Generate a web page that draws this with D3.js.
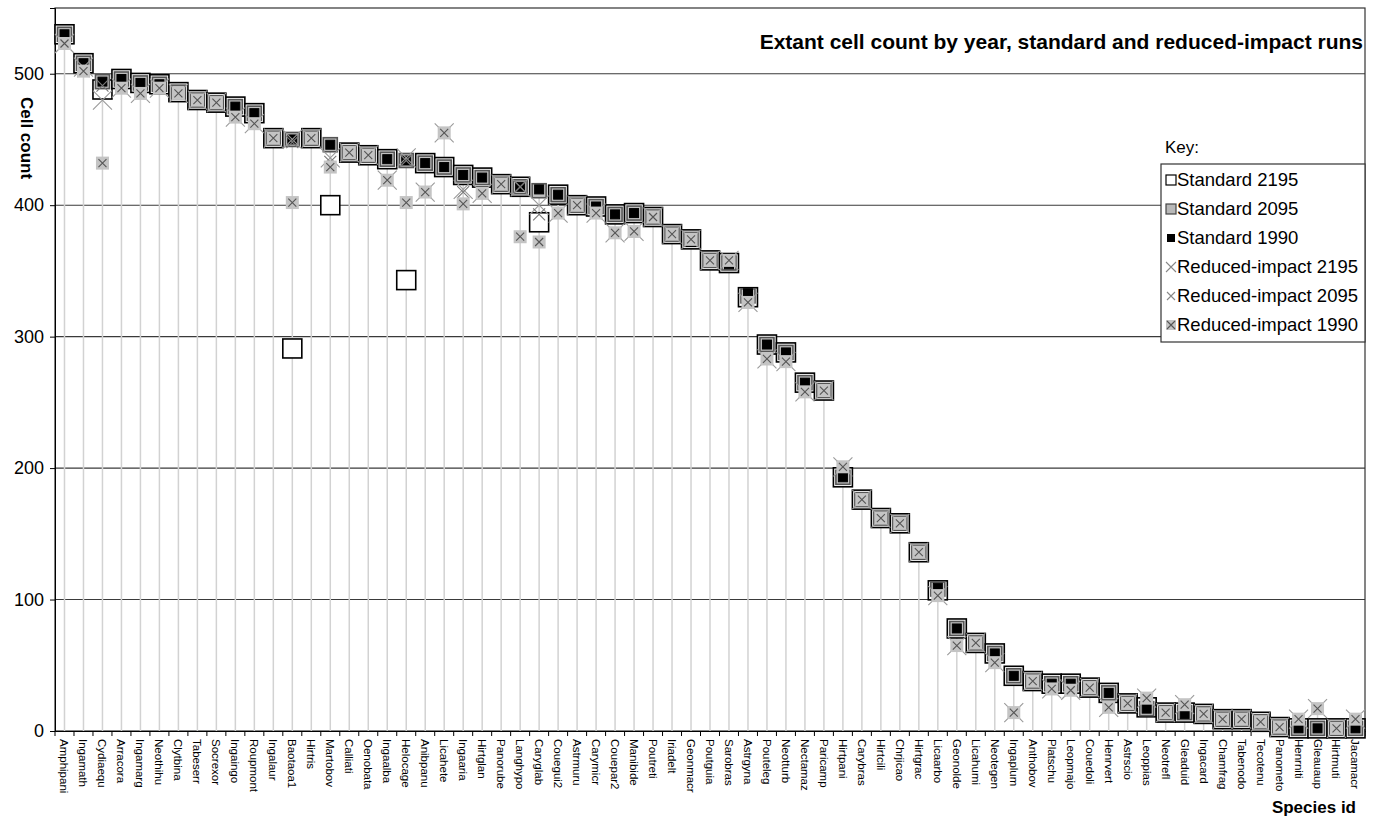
<!DOCTYPE html>
<html>
<head>
<meta charset="utf-8">
<script src="https://cdn.jsdelivr.net/npm/d3@7"></script>
<style>
  body { margin: 0; background: #fff; }
  svg text { font-family: Arial, "Liberation Sans", sans-serif; fill: #000; }
</style>
</head>
<body>
<svg id="chart" width="1380" height="823"></svg>
<script>
const species = ["Amphipani","Ingamath","Cydiaequ","Arracora","Ingamarg","Neothihu","Clytbina","Tabeserr","Socrexor","Ingaingo",
  "Roupmont","Ingalaur","Baotaoa1","Hirtris","Martobov","Calliati","Oenobata","Ingaalba","Helocage","Anibpanu",
  "Licahete","Ingaaria","Hirtglan","Panorube","Langhypo","Caryglab","Couegui2","Astrmuru","Carymicr","Couepar2",
  "Manibide","Poutreti","Iriadelt","Geonmacr","Poutguia","Sarobras","Astrgyna","Pouteleg","Neotturb","Nectamaz",
  "Paricamp","Hirtpani","Carybras","Hirtcili","Chrjicao","Hirtgrac","Licaarbo","Geonolde","Licahumi","Neotegen",
  "Ingaplum","Anthobov","Platschu","Leopmajo","Couedoli","Henrvert","Astrscio","Leoppias","Neotrefl","Gleaduid",
  "Ingacard","Chamfrag","Tabenodo","Tecotenu","Panometo","Henrniti","Gleauaup","Hirtmuti","Jacamacr"];

const std2195 = [530,508,488,496,493,492,486,480,478,475,470,451,291,451,400,440,438,435,343,432,
  429,423,421,416,414,387,408,400,399,393,394,391,378,374,358,356,330,294,288,265,
  259,193,176,162,158,136,107,78,67,59,42,38,36,36,33,29,21,18,14,14,
  13,9,9,7,3,2,2,2,2];
const std2095 = [530,508,494,496,493,492,486,480,478,475,470,451,450,451,446,440,438,435,434,432,
  429,423,421,416,414,411,408,400,399,393,394,391,378,374,358,356,331,294,288,265,
  259,193,176,162,158,136,108,78,67,59,42,38,36,36,33,29,21,17,14,14,
  13,9,9,7,3,2,2,2,2];
const std1990 = [530,508,494,496,493,492,486,480,478,475,470,451,450,451,446,440,438,435,434,432,
  429,423,421,416,414,412,408,400,399,393,394,391,378,372,358,355,333,294,288,265,
  259,193,176,162,158,136,109,78,67,59,42,38,36,36,33,29,21,17,14,13,
  13,9,9,7,3,2,2,2,2];
const red2195 = [523,505,480,489,485,489,485,480,478,467,462,451,450,451,436,440,438,419,436,410,
  455,412,409,416,414,400,394,400,394,379,380,391,378,374,358,358,326,283,281,258,
  259,201,176,162,158,136,103,65,67,52,14,38,32,31,33,18,21,25,14,20,
  13,9,9,7,3,9,17,2,9];
const red2095 = [523,502,491,489,485,489,485,480,478,467,462,451,448,451,433,440,438,419,434,410,
  455,410,409,416,414,393,394,400,394,379,380,391,378,374,358,358,326,283,281,258,
  259,201,176,162,158,136,103,65,67,52,14,38,32,31,33,18,21,25,14,20,
  13,9,9,7,3,9,17,2,9];
const red1990 = [523,502,432,489,485,489,485,480,478,467,462,451,402,451,429,440,438,419,402,410,
  455,401,409,416,376,372,394,400,394,379,380,391,378,374,358,358,326,283,281,258,
  259,201,176,162,158,136,103,65,67,52,14,38,32,31,33,18,21,25,14,20,
  13,9,9,7,3,9,17,2,9];
const yTicks = [0,100,200,300,400,500];

const svg = d3.select("#chart");
const plotLeft = 55, plotRight = 1365, plotTop = 8, plotBottom = 731;

const x = d3.scaleBand().domain(species).range([plotLeft, plotRight]).padding(0);
const y = d3.scaleLinear().domain([0, 550]).range([plotBottom, plotTop]);
const cx = (i) => x(species[i]) + x.bandwidth() / 2;

// grid lines
svg.append("g")
  .selectAll("line")
  .data(yTicks.filter((d) => d > 0))
  .enter()
  .append("line")
  .attr("x1", plotLeft).attr("x2", plotRight)
  .attr("y1", (d) => y(d)).attr("y2", (d) => y(d))
  .attr("stroke", "#3a3a3a").attr("stroke-width", 1.1);

// plot border
svg.append("rect")
  .attr("x", plotLeft).attr("y", plotTop)
  .attr("width", plotRight - plotLeft).attr("height", plotBottom - plotTop)
  .attr("fill", "none").attr("stroke", "#333").attr("stroke-width", 1.2);

// drop lines from highest value to zero
const allSeries = [std2195, std2095, std1990, red2195, red2095, red1990];
svg.append("g")
  .selectAll("line")
  .data(species)
  .enter()
  .append("line")
  .attr("x1", (d, i) => cx(i)).attr("x2", (d, i) => cx(i))
  .attr("y1", (d, i) => y(d3.max(allSeries, (s) => s[i])))
  .attr("y2", y(0))
  .attr("stroke", "#d2d2d2").attr("stroke-width", 1.5);

// axes
const yAxis = svg.append("g")
  .attr("transform", `translate(${plotLeft},0)`)
  .call(d3.axisLeft(y).tickValues(yTicks).tickSize(5).tickPadding(6));
yAxis.selectAll("text").style("font-size", "18px").style("font-family", "Arial, 'Liberation Sans', sans-serif");
yAxis.select(".domain").attr("stroke", "#000");

const xAxis = svg.append("g")
  .attr("transform", `translate(0,${plotBottom})`)
  .call(d3.axisBottom(x).tickSize(0).tickFormat(""));
xAxis.select(".domain").attr("stroke", "#000").attr("stroke-width", 1.2);
xAxis.selectAll("line.bound")
  .data(d3.range(species.length + 1))
  .enter()
  .append("line")
  .attr("class", "bound")
  .attr("x1", (d) => plotLeft + d * x.step()).attr("x2", (d) => plotLeft + d * x.step())
  .attr("y1", 0).attr("y2", 5)
  .attr("stroke", "#000");

svg.append("g")
  .selectAll("text")
  .data(species)
  .enter()
  .append("text")
  .attr("transform", (d, i) => `translate(${cx(i)},739) rotate(90)`)
  .attr("dy", "0.35em")
  .style("font-size", "11.5px")
  .text((d) => d);

// markers
const sq = (g, data, size, fill, stroke, sw) => {
  g.selectAll("rect")
    .data(data)
    .enter()
    .append("rect")
    .attr("x", (d, i) => cx(i) - size / 2)
    .attr("y", (d) => y(d) - size / 2)
    .attr("width", size).attr("height", size)
    .attr("fill", fill).attr("stroke", stroke).attr("stroke-width", sw);
};
const cross = (g, data, size, stroke, sw) => {
  const h = size / 2;
  g.selectAll("path")
    .data(data)
    .enter()
    .append("path")
    .attr("d", (d, i) => {
      const px = cx(i), py = y(d);
      return `M${px - h},${py - h}L${px + h},${py + h}M${px - h},${py + h}L${px + h},${py - h}`;
    })
    .attr("stroke", stroke).attr("stroke-width", sw).attr("fill", "none");
};

sq(svg.append("g"), std2195, 19, "#fff", "#000", 1.6);
sq(svg.append("g"), std2095, 14, "#c0c0c0", "#555", 1.6);
sq(svg.append("g"), std1990, 9, "#000", "#000", 1);
cross(svg.append("g"), red2195, 19, "#9a9a9a", 1.1);
cross(svg.append("g"), red2095, 12, "#7a7a7a", 1.1);
const r90 = svg.append("g");
sq(r90, red1990, 13, "#c4c4c4", "none", 0);
cross(r90, red1990, 8, "#555", 1.1);

// titles
svg.append("text")
  .attr("x", 1363).attr("y", 49)
  .attr("text-anchor", "end")
  .style("font-size", "21px").style("font-weight", "bold")
  .text("Extant cell count by year, standard and reduced-impact runs");

svg.append("text")
  .attr("transform", "translate(27,138) rotate(90)")
  .attr("text-anchor", "middle")
  .attr("dy", "0.35em")
  .style("font-size", "17px").style("font-weight", "bold")
  .text("Cell count");

svg.append("text")
  .attr("x", 1356).attr("y", 813)
  .attr("text-anchor", "end")
  .style("font-size", "17px").style("font-weight", "bold")
  .text("Species id");

// legend
svg.append("text")
  .attr("x", 1165).attr("y", 153)
  .style("font-size", "17px")
  .text("Key:");

const legend = svg.append("g");
legend.append("rect")
  .attr("x", 1161).attr("y", 164)
  .attr("width", 204).attr("height", 178)
  .attr("fill", "#fff").attr("stroke", "#333").attr("stroke-width", 1.2);

const keys = ["Standard 2195","Standard 2095","Standard 1990","Reduced-impact 2195","Reduced-impact 2095","Reduced-impact 1990"];
const ky = (i) => 180 + i * 29;
const mx = 1171;
keys.forEach((k, i) => {
  const g = legend.append("g");
  if (i === 0) g.append("rect").attr("x", mx - 5).attr("y", ky(i) - 5).attr("width", 10).attr("height", 10).attr("fill", "#fff").attr("stroke", "#000").attr("stroke-width", 1.2);
  if (i === 1) g.append("rect").attr("x", mx - 5).attr("y", ky(i) - 5).attr("width", 10).attr("height", 10).attr("fill", "#b8b8b8").attr("stroke", "#444").attr("stroke-width", 1.2);
  if (i === 2) g.append("rect").attr("x", mx - 4).attr("y", ky(i) - 4).attr("width", 8).attr("height", 8).attr("fill", "#000");
  if (i === 3) g.append("path").attr("d", `M${mx - 5},${ky(i) - 5}L${mx + 5},${ky(i) + 5}M${mx - 5},${ky(i) + 5}L${mx + 5},${ky(i) - 5}`).attr("stroke", "#888").attr("stroke-width", 1.1);
  if (i === 4) g.append("path").attr("d", `M${mx - 4},${ky(i) - 4}L${mx + 4},${ky(i) + 4}M${mx - 4},${ky(i) + 4}L${mx + 4},${ky(i) - 4}`).attr("stroke", "#888").attr("stroke-width", 1.1);
  if (i === 5) {
    g.append("rect").attr("x", mx - 5).attr("y", ky(i) - 5).attr("width", 10).attr("height", 10).attr("fill", "#c4c4c4");
    g.append("path").attr("d", `M${mx - 4},${ky(i) - 4}L${mx + 4},${ky(i) + 4}M${mx - 4},${ky(i) + 4}L${mx + 4},${ky(i) - 4}`).attr("stroke", "#555").attr("stroke-width", 1.1);
  }
  g.append("text")
    .attr("x", 1177).attr("y", ky(i))
    .attr("dy", "0.35em")
    .style("font-size", "18.5px")
    .text(k);
});
</script>
</body>
</html>
